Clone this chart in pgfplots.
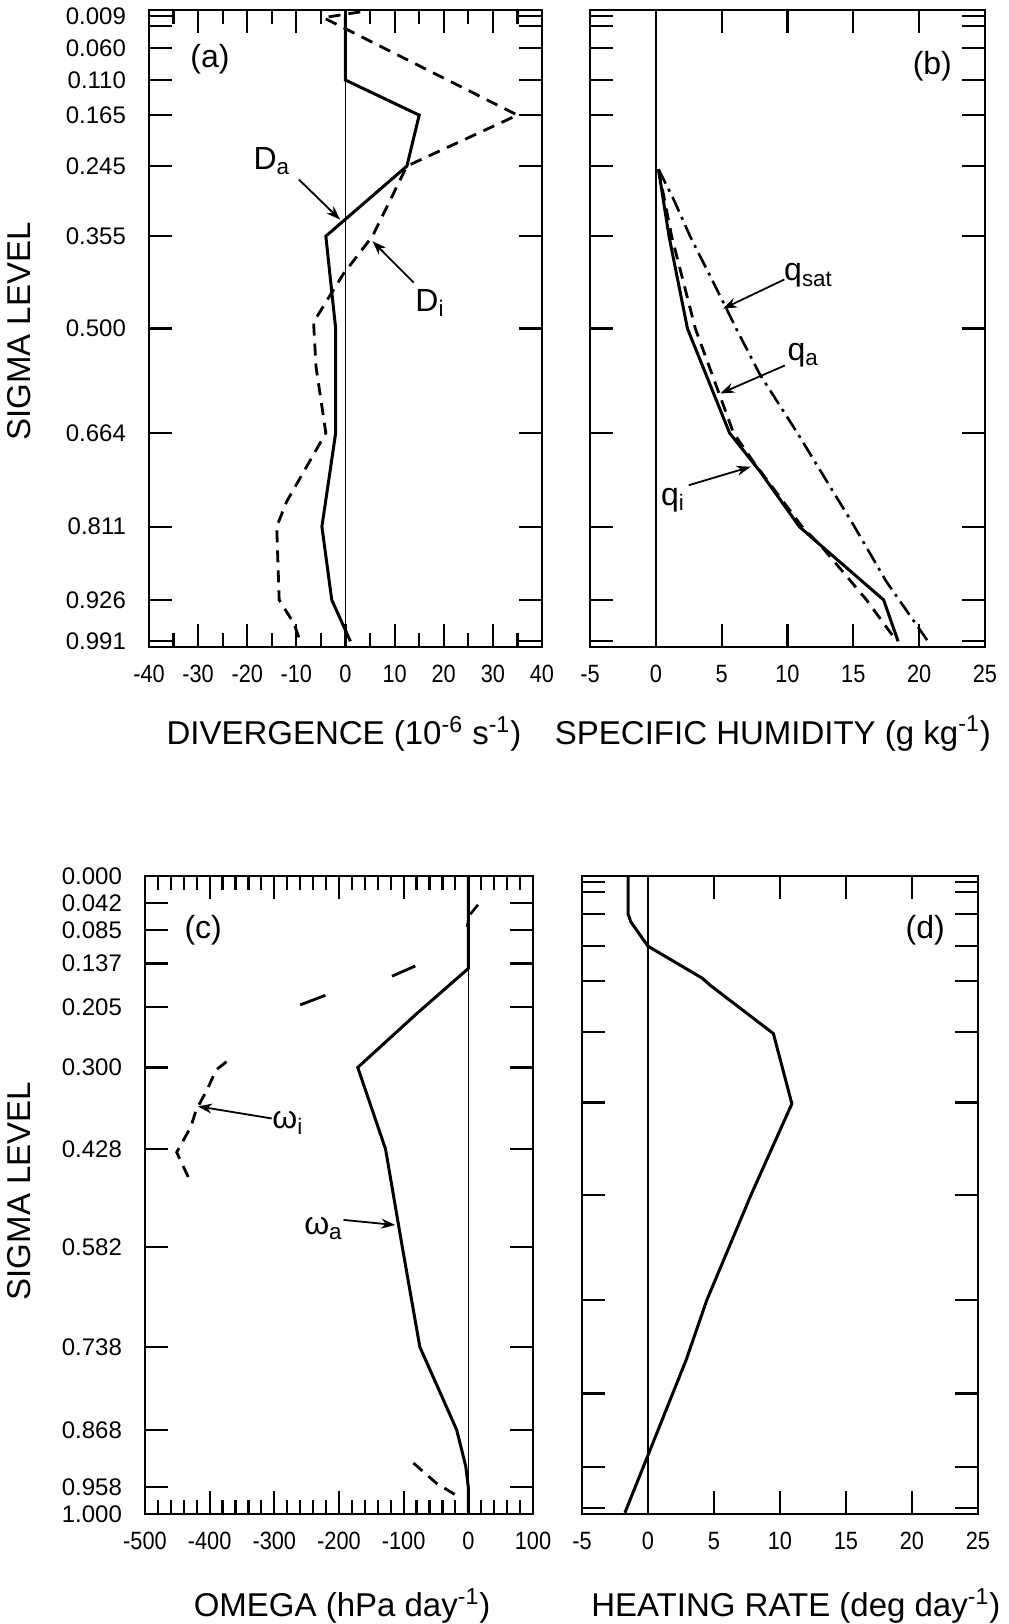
\documentclass[border=0pt]{standalone}
\usepackage{fontspec}
\setmainfont{Liberation Sans}
\newfontfamily\condfont{Liberation Sans}[FakeStretch=0.87]
\usepackage{pgfplots}
\pgfplotsset{compat=1.18}
\usetikzlibrary{arrows.meta}

\tikzset{
 lab/.style={font=\fontsize{16}{18}\selectfont},
 arr/.style={-{Stealth[length=7pt,width=5pt]}, line width=0.9pt},
 zero/.style={black, line width=0.7pt},
 sol/.style={black, line width=1.5pt},
 dsh/.style={black, line width=1.4pt, dash pattern=on 6pt off 4pt},
 dashdot/.style={black, line width=1.3pt, dash pattern=on 8pt off 3pt on 1.5pt off 3pt},
}
\pgfplotsset{
 prof/.style={
  scale only axis, y dir=reverse, ymin=0, ymax=1,
  axis line style={line width=1.3pt},
  every tick/.style={black, line width=1.1pt},
  major tick length=11.5pt, minor tick length=7pt,
  tick align=inside,
  xticklabel style={font=\condfont\fontsize{12.5}{14}\selectfont, yshift=-5.5pt},
  yticklabel style={font=\fontsize{12}{14}\selectfont, xshift=-8pt},
  xlabel style={font=\fontsize{16.5}{19}\selectfont, anchor=center},
  ylabel style={font=\fontsize{16.5}{19}\selectfont, anchor=center},
  clip=true,
 },
 toplev/.style={
  ytick={0.009,0.025,0.060,0.110,0.165,0.245,0.355,0.500,0.664,0.811,0.926,0.991},
 },
 botlev/.style={
  ytick={0,0.042,0.085,0.137,0.205,0.300,0.428,0.582,0.738,0.868,0.958,1.0},
 },
}

\begin{document}
\begin{tikzpicture}
\useasboundingbox (0,0) rectangle (504pt,-812pt);

% ---------------- (a) ----------------
\begin{axis}[prof, toplev,
  at={(74.5pt,-5pt)}, anchor=north west, width=196.5pt, height=318.5pt,
  xmin=-40, xmax=40,
  xtick={-40,-30,...,40}, minor x tick num=1,
  xticklabels={-40,-30,-20,-10,0,10,20,30,40},
  yticklabels={0.009,{},0.060,0.110,0.165,0.245,0.355,0.500,0.664,0.811,0.926,0.991},
  xlabel={DIVERGENCE (10\textsuperscript{-6} s\textsuperscript{-1})},
  xlabel style={at={(axis description cs:0.496,-0.136)}},
  ylabel={SIGMA LEVEL},
  ylabel style={at={(axis description cs:-0.331,0.495)}},
]
\addplot[zero] coordinates {(0,0) (0,1)};
\addplot[sol] coordinates {(0,0.009) (0,0.060) (0,0.110) (15,0.165) (12.5,0.245) (-4,0.355) (-2,0.500) (-2,0.664) (-4.8,0.811) (-2.8,0.926) (1,0.991)};
\addplot[dsh] coordinates {(3,0.003) (-4.5,0.012) (35,0.165) (12.5,0.245) (5.5,0.355) (-0.5,0.415) (-6.5,0.49) (-6,0.56) (-4,0.664) (-12,0.772) (-14,0.811) (-13.5,0.926) (-10.5,0.963) (-9.3,0.989)};
\node[lab] at (axis cs:-27.6,0.077) {(a)};
\node[lab] at (axis cs:-15,0.237) {D\textsubscript{a}};
\draw[arr] (axis cs:-9.5,0.266) -- (axis cs:-1.1,0.329);
\node[lab] at (axis cs:17.2,0.46) {D\textsubscript{i}};
\draw[arr] (axis cs:13.9,0.428) -- (axis cs:5.5,0.363);
\end{axis}

% ---------------- (b) ----------------
\begin{axis}[prof, toplev,
  at={(295pt,-5pt)}, anchor=north west, width=197.5pt, height=318.5pt,
  xmin=-5, xmax=25,
  xtick={-5,0,...,25},
  xticklabels={-5,0,5,10,15,20,25},
  yticklabels={},
  xlabel={SPECIFIC HUMIDITY (g kg\textsuperscript{-1})},
  xlabel style={at={(axis description cs:0.463,-0.136)}},
]
\addplot[zero] coordinates {(0,0) (0,1)};
\addplot[dashdot] coordinates {(0.2,0.25) (1.3,0.295) (2.6,0.355) (5.2,0.462) (6.1,0.5) (7.9,0.572) (10.75,0.664) (15,0.808) (17.5,0.897) (20.7,0.992)};
\addplot[sol] coordinates {(0.2,0.25) (1.0,0.355) (2.4,0.5) (5.6,0.664) (7.9,0.724) (10.9,0.811) (12.5,0.84) (17.3,0.926) (18.4,0.991)};
\addplot[dsh] coordinates {(0.2,0.25) (1.2,0.355) (3.0,0.5) (5.9,0.664) (7.4,0.709) (11.1,0.811) (12.7,0.845) (16.0,0.926) (18.3,0.991)};
\node[lab] at (axis cs:21.0,0.088) {(b)};
\node[lab] at (axis cs:11.6,0.417) {q\textsubscript{sat}};
\draw[arr] (axis cs:9.76,0.423) -- (axis cs:5.1,0.469);
\node[lab] at (axis cs:11.2,0.542) {q\textsubscript{a}};
\draw[arr] (axis cs:9.8,0.558) -- (axis cs:4.9,0.602);
\node[lab] at (axis cs:1.3,0.770) {q\textsubscript{i}};
\draw[arr] (axis cs:2.5,0.746) -- (axis cs:7.2,0.717);
\end{axis}

% ---------------- (c) ----------------
\begin{axis}[prof, botlev,
  at={(72.5pt,-438pt)}, anchor=north west, width=194pt, height=319pt,
  xmin=-500, xmax=100,
  xtick={-500,-400,...,100}, minor x tick num=4,
  xticklabels={-500,-400,-300,-200,-100,0,100},
  yticklabels={0.000,0.042,0.085,0.137,0.205,0.300,0.428,0.582,0.738,0.868,0.958,1.000},
  xlabel={OMEGA (hPa day\textsuperscript{-1})},
  xlabel style={at={(axis description cs:0.508,-0.144)}},
  ylabel={SIGMA LEVEL},
  ylabel style={at={(axis description cs:-0.325,0.506)}},
]
\addplot[zero] coordinates {(0,0) (0,1)};
\addplot[sol] coordinates {(0,0) (0,0.145) (-79,0.215) (-171,0.300) (-128,0.428) (-102,0.582) (-75,0.738) (-18,0.868) (-4,0.925) (0,0.958) (0,1.0)};
\addplot[black, line width=1.3pt] coordinates {(15,0.045) (3,0.06)};
\addplot[black, line width=1.3pt] coordinates {(0,0.07) (-2,0.08)};
\addplot[black, line width=1.4pt] coordinates {(-82,0.141) (-118,0.157)};
\addplot[black, line width=1.4pt] coordinates {(-221,0.187) (-260,0.202)};
\addplot[dsh] coordinates {(-374,0.291) (-390,0.304) (-404,0.335) (-421,0.367) (-429,0.393) (-451,0.433) (-433,0.472)};
\addplot[dsh] coordinates {(-85,0.920) (-49,0.952) (-23,0.968) (-15,0.975)};
\node[lab] at (axis cs:-410,0.085) {(c)};
\node[lab] at (axis cs:-279,0.387) {ω\textsubscript{i}};
\draw[arr] (axis cs:-304,0.380) -- (axis cs:-418,0.361);
\node[lab] at (axis cs:-224,0.552) {ω\textsubscript{a}};
\draw[arr] (axis cs:-193,0.539) -- (axis cs:-113,0.547);
\end{axis}

% ---------------- (d) ----------------
\begin{axis}[prof, toplev,
  at={(291pt,-438pt)}, anchor=north west, width=198pt, height=319pt,
  xmin=-5, xmax=25,
  xtick={-5,0,...,25},
  xticklabels={-5,0,5,10,15,20,25},
  yticklabels={},
  xlabel={HEATING RATE (deg day\textsuperscript{-1})},
  xlabel style={at={(axis description cs:0.54,-0.144)}},
]
\addplot[zero] coordinates {(0,0) (0,1)};
\addplot[sol] coordinates {(-1.5,0) (-1.5,0.060) (-1.3,0.072) (0,0.110) (4.1,0.160) (4.7,0.171) (9.5,0.247) (10.9,0.357) (7.8,0.500) (4.45,0.665) (2.9,0.758) (0.15,0.9) (-1.75,0.998)};
\node[lab] at (axis cs:21,0.085) {(d)};
\end{axis}
\end{tikzpicture}
\end{document}
